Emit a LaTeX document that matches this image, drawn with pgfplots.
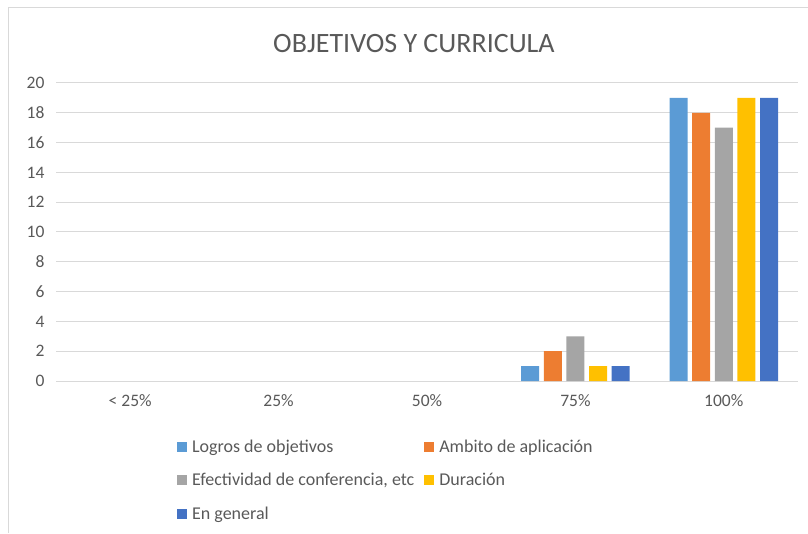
\documentclass[border=0pt]{standalone}
\usepackage{pgfplots}
\pgfplotsset{compat=1.18}
\usepackage{fontspec}
\setmainfont{Carlito}
\definecolor{c1}{RGB}{91,155,213}
\definecolor{c2}{RGB}{237,125,49}
\definecolor{c3}{RGB}{165,165,165}
\definecolor{c4}{RGB}{255,192,0}
\definecolor{c5}{RGB}{68,114,196}
\definecolor{txt}{RGB}{89,89,89}
\definecolor{grd}{RGB}{217,217,217}
\begin{document}
\begin{tikzpicture}[x=1pt,y=1pt]
\useasboundingbox (0,0) rectangle (808,533);
\draw[grd, line width=1pt] (8,0) -- (8,525) -- (808,525);
\node[txt, font=\fontsize{28}{33}\selectfont, anchor=base] at (414,480) {OBJETIVOS Y CURRICULA};
\begin{axis}[
 at={(56pt,152pt)}, anchor=south west,
 scale only axis, width=742pt, height=298pt,
 ybar, bar width=18pt,
 xmin=-0.5, xmax=4.5, ymin=0, ymax=20,
 xtick={0,...,4}, xticklabels={< 25\%, 25\%, 50\%, 75\%, 100\%},
 ytick={0,2,...,20},
 axis line style={draw=none},
 ymajorgrids, grid style={grd, line width=1pt},
 major tick length=0pt,
 tick label style={txt, font=\fontsize{17.5}{21}\selectfont},
 /pgf/number format/assume math mode=true,
 yticklabel style={xshift=-8pt},
 xticklabel style={yshift=-10pt},
 legend columns=2,
 legend cell align=left,
 legend style={draw=none, fill=none, inner sep=0pt, at={(0.163,-0.19)}, anchor=north west,
   font=\fontsize{18}{21}\selectfont, text=txt, row sep=15.5pt,
   /tikz/every odd column/.append style={column sep=3pt},
   /tikz/every even column/.append style={column sep=8pt}},
 legend image code/.code={\fill[#1] (0pt,-5pt) rectangle (10pt,5pt);},
]
\addplot[fill=c1, draw=none, bar shift=-45.2pt] coordinates {(3,1) (4,19)};
\addplot[fill=c2, draw=none, bar shift=-22.6pt] coordinates {(3,2) (4,18)};
\addplot[fill=c3, draw=none, bar shift=0pt] coordinates {(3,3) (4,17)};
\addplot[fill=c4, draw=none, bar shift=22.6pt] coordinates {(3,1) (4,19)};
\addplot[fill=c5, draw=none, bar shift=45.2pt] coordinates {(3,1) (4,19)};
\legend{Logros de objetivos, Ambito de aplicación, {Efectividad de conferencia, etc}, Duración, En general}
\end{axis}
\end{tikzpicture}
\end{document}
